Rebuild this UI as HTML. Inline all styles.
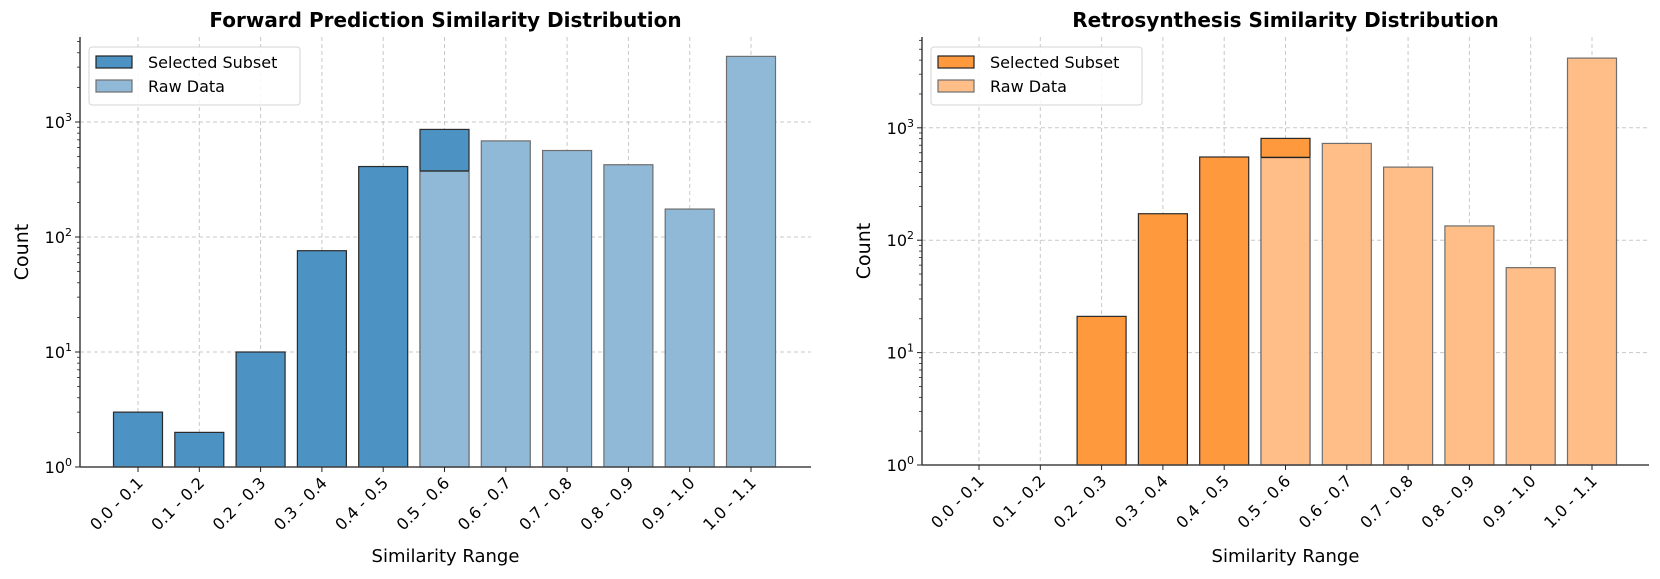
<!DOCTYPE html>
<html><head><meta charset="utf-8"><style>
html,body{margin:0;padding:0;background:#fff;}
svg{display:block;font-family:"DejaVu Sans","Liberation Sans",sans-serif;}
</style></head><body>
<svg id="chart" width="1660" height="579" viewBox="0 0 1660 579" xmlns="http://www.w3.org/2000/svg"></svg>
<script>
const categories = ["0.0 - 0.1","0.1 - 0.2","0.2 - 0.3","0.3 - 0.4","0.4 - 0.5","0.5 - 0.6","0.6 - 0.7","0.7 - 0.8","0.8 - 0.9","0.9 - 1.0","1.0 - 1.1"];
const fwdSelected = [3, 2, 10, 76, 410, 862, 0, 0, 0, 0, 0];
const fwdRaw = [0, 0, 0, 0, 0, 375, 685, 565, 425, 175, 3720];
const retroSelected = [0, 0, 21, 172, 550, 805, 0, 0, 0, 0, 0];
const retroRaw = [0, 0, 0, 0, 0, 545, 726, 447, 134, 57, 4170];
const yTickExps = [0, 1, 2, 3];

const NS = "http://www.w3.org/2000/svg";
const svg = document.getElementById("chart");
function mk(tag, attrs, parent) {
  const e = document.createElementNS(NS, tag);
  for (const k in attrs) e.setAttribute(k, attrs[k]);
  (parent || svg).appendChild(e);
  return e;
}

function drawPanel(cfg) {
  const g = mk("g", {});
  
  
  const L = cfg.left, R = cfg.right, T = 37, B = cfg.bottom;
  const step = cfg.step, c0 = cfg.c0, bw = 49;
  const xScale = i => c0 + i * step;
  const yScale = v => B - Math.log10(v) * cfg.decade;
  categories.forEach((c, i) => {
    const gl = mk("line", {x1: xScale(i), x2: xScale(i), y1: T, y2: B, stroke: "#c8c8c8", "stroke-width": 1, "stroke-dasharray": "4,3"}, g);
    
    
  });
  yTickExps.forEach(e => {
    const y = yScale(Math.pow(10, e));
    if (e > 0) {
      const gl = mk("line", {x1: L, x2: R, y1: y, y2: y, stroke: "#c8c8c8", "stroke-width": 1, "stroke-dasharray": "4,3"}, g);
      
      
    }
  });
  function bars(vals, fill, stroke, nm) {
    vals.forEach((v, i) => {
      if (v <= 0) return;
      const y = yScale(v);
      const r = mk("rect", {x: xScale(i) - bw / 2, y: y, width: bw, height: B - y, fill: fill, stroke: stroke, "stroke-width": 1.2}, g);
      
      
    });
  }
  bars(cfg.sel, cfg.selColor, "#2a2a2a", "selected-bar");
  bars(cfg.raw, cfg.rawColor, "#6e6e6e", "raw-bar");
  cfg.raw.forEach((v, i) => {
    if (v > 0 && cfg.sel[i] > 0) {
      const y = yScale(v);
      const ln = mk("line", {x1: xScale(i) - bw / 2, x2: xScale(i) + bw / 2, y1: y, y2: y, stroke: "#222", "stroke-width": 1.3}, g);
      
      
    }
  });
  const ax = mk("line", {x1: L, x2: L, y1: T, y2: B, stroke: "#222", "stroke-width": 1.3}, g);
  
  
  const bx = mk("line", {x1: L, x2: R, y1: B, y2: B, stroke: "#444", "stroke-width": 1.5}, g);
  
  
  yTickExps.forEach(e => {
    const y = yScale(Math.pow(10, e));
    mk("line", {x1: L - 5, x2: L, y1: y, y2: y, stroke: "#222", "stroke-width": 1}, g);
    const t = mk("text", {x: L - 8, y: y + 6, "text-anchor": "end", "font-size": 16, fill: "#000"}, g);
    
    
    t.textContent = "10";
    const s = mk("tspan", {dy: -7, "font-size": 11}, t);
    s.textContent = String(e);
  });
  const maxV = Math.pow(10, (B - T) / cfg.decade);
  for (let e = 0; e < 4; e++) for (let m = 2; m <= 9; m++) {
    const v = m * Math.pow(10, e);
    if (v > maxV) continue;
    const y = yScale(v);
    mk("line", {x1: L - 3, x2: L, y1: y, y2: y, stroke: "#222", "stroke-width": 0.8}, g);
  }
  categories.forEach((c, i) => {
    const x = xScale(i);
    mk("line", {x1: x, x2: x, y1: B, y2: B + 5, stroke: "#222", "stroke-width": 1}, g);
    const t = mk("text", {x: 0, y: 0, "text-anchor": "end", "font-size": 16, fill: "#000", transform: `translate(${x + 6},${B + 17}) rotate(-45)`}, g);
    
    
    t.textContent = c;
  });
  const tt = mk("text", {x: (L + R) / 2, y: 27, "text-anchor": "middle", "font-size": 20, "font-weight": "bold", fill: "#000"}, g);
  
  
  tt.textContent = cfg.title;
  const xl = mk("text", {x: (L + R) / 2, y: 562, "text-anchor": "middle", "font-size": 18, fill: "#000"}, g);
  
  
  xl.textContent = "Similarity Range";
  const yl = mk("text", {x: 0, y: 0, "text-anchor": "middle", "font-size": 19, fill: "#000", transform: `translate(${L - 52},${(T + B) / 2}) rotate(-90)`}, g);
  
  
  yl.textContent = "Count";
  const lg = mk("g", {}, g);
  
  
  mk("rect", {x: L + 9, y: 47, width: 211, height: 58, rx: 3, fill: "#fff", "fill-opacity": 0.85, stroke: "#d5d5d5", "stroke-width": 1}, lg);
  const items = [["Selected Subset", cfg.selColor, "#222"], ["Raw Data", cfg.rawColor, "#6e6e6e"]];
  items.forEach((it, k) => {
    const yy = 56 + k * 24;
    const sw = mk("rect", {x: L + 16, y: yy, width: 36, height: 12, fill: it[1], stroke: it[2], "stroke-width": 1.2}, lg);
    
    
    const tx = mk("text", {x: L + 68, y: yy + 12, "font-size": 16, fill: "#000"}, lg);
    
    
    tx.textContent = it[0];
  });
}

drawPanel({name: "forward-panel", title: "Forward Prediction Similarity Distribution", left: 80, right: 811, bottom: 467, decade: 115, c0: 138, step: 61.3, sel: fwdSelected, raw: fwdRaw, selColor: "#4c92c3", rawColor: "#90b9d8"});
drawPanel({name: "retro-panel", title: "Retrosynthesis Similarity Distribution", left: 922, right: 1649, bottom: 465, decade: 112.4, c0: 979, step: 61.3, sel: retroSelected, raw: retroRaw, selColor: "#ff993e", rawColor: "#ffbe88"});
</script>
</body></html>
